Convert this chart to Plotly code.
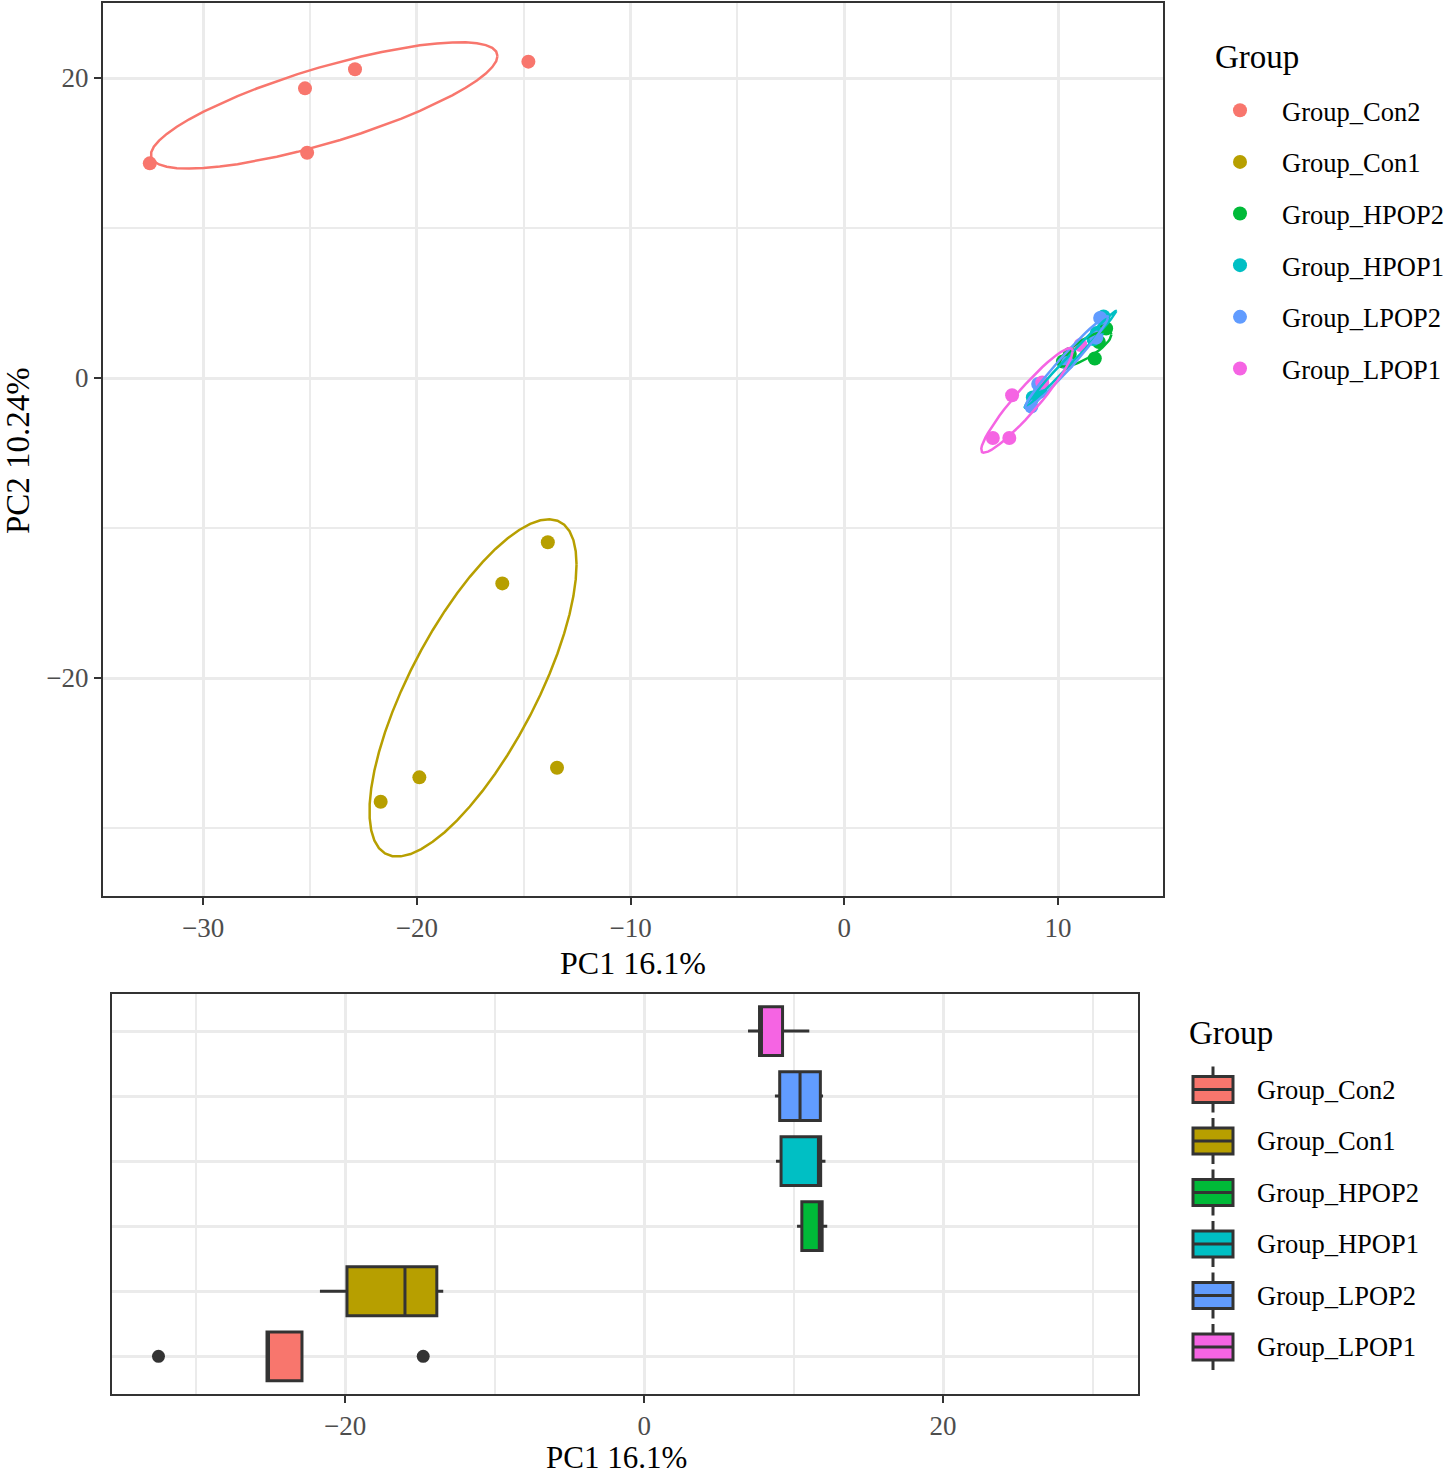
import numpy as np
import plotly.graph_objects as go

# ---- data: PCA scores ----
groups = ["Group_Con2", "Group_Con1", "Group_HPOP2", "Group_HPOP1", "Group_LPOP2", "Group_LPOP1"]
colors = ["#F8766D", "#B79F00", "#00BA38", "#00BFC4", "#619CFF", "#F564E3"]

con2_pc1 = [-32.49, -25.23, -22.89, -25.13, -14.78]
con2_pc2 = [14.31, 19.31, 20.58, 15.02, 21.09]
con1_pc1 = [-13.87, -16.00, -19.88, -21.69, -13.44]
con1_pc2 = [-10.95, -13.69, -26.62, -28.25, -25.98]
hpop2_pc1 = [10.23, 10.55, 11.72, 11.91, 12.25]
hpop2_pc2 = [1.1, 1.6, 1.3, 2.4, 3.3]
hpop1_pc1 = [8.82, 9.16, 11.66, 11.81, 12.13]
hpop1_pc2 = [-1.3, -0.9, 2.6, 3.0, 4.1]
lpop2_pc1 = [8.75, 9.07, 10.43, 11.79, 11.97]
lpop2_pc2 = [-1.9, -0.4, 1.0, 2.7, 4.0]
lpop1_pc1 = [6.95, 7.72, 7.85, 9.26, 11.05]
lpop1_pc2 = [-4.0, -4.0, -1.15, -0.3, 2.2]

pc1 = [con2_pc1, con1_pc1, hpop2_pc1, hpop1_pc1, lpop2_pc1, lpop1_pc1]
pc2 = [con2_pc2, con1_pc2, hpop2_pc2, hpop1_pc2, lpop2_pc2, lpop1_pc2]

W, H = 1450, 1476
FONT = "Liberation Serif"
ELLIPSE_LEVEL = 0.6


def cov_trob(pts, nu=5, maxit=25, tol=0.01):
    # robust t scatter, same iteration as MASS::cov.trob
    x = np.asarray(pts, float)
    n, p = x.shape
    wt = np.ones(n)
    loc = x.mean(axis=0)
    w = np.sqrt(wt)
    for _ in range(maxit):
        w0 = w
        X = x - loc
        _, d, vt = np.linalg.svd(np.sqrt(w / w.sum())[:, None] * X, full_matrices=False)
        wX = X @ vt.T @ np.diag(1 / d)
        Q = (wX ** 2).sum(axis=1)
        w = (wt * (nu + p)) / (nu + Q)
        loc = (w[:, None] * x).sum(axis=0) / w.sum()
        if np.all(np.abs(w - w0) < tol):
            break
    sX = np.sqrt(w)[:, None] * X
    return loc, sX.T @ sX / wt.sum()


def ellipse(xs, ys, level=ELLIPSE_LEVEL, segments=51):
    center, shape = cov_trob(np.column_stack([xs, ys]))
    dfd = len(xs) - 1
    qf = dfd / 2 * ((1 - level) ** (-2 / dfd) - 1)  # F(2, dfd) quantile
    radius = np.sqrt(2 * qf)
    ang = np.linspace(0, 2 * np.pi, segments + 1)
    circle = np.column_stack([np.cos(ang), np.sin(ang)])
    e = center + radius * (circle @ np.linalg.cholesky(shape).T)
    return e[:, 0], e[:, 1]


def px_x(px):
    return px / W


def px_y(py):
    return 1 - py / H


fig = go.Figure()

# top panel: points
for g, c, xs, ys in zip(groups, colors, pc1, pc2):
    fig.add_trace(go.Scatter(
        x=xs, y=ys, mode="markers", name=g,
        marker=dict(color=c, size=14),
        legendgroup="s" + g, xaxis="x", yaxis="y",
    ))

# top panel: ellipses
for g, c, xs, ys in zip(groups, colors, pc1, pc2):
    ex, ey = ellipse(xs, ys)
    fig.add_trace(go.Scatter(
        x=ex, y=ey, mode="lines", line=dict(color=c, width=2.5),
        showlegend=False, hoverinfo="skip", xaxis="x", yaxis="y",
    ))

# bottom panel: PC1 boxplots
for g, c, xs in zip(groups, colors, pc1):
    fig.add_trace(go.Box(
        x=xs, y=[g] * len(xs), orientation="h", name=g,
        boxpoints="outliers", quartilemethod="inclusive",
        fillcolor=c, line=dict(color="#333333", width=3),
        marker=dict(color="#333333", size=13),
        whiskerwidth=0, width=0.75, showlegend=False,
        xaxis="x2", yaxis="y2",
    ))

grid = "#EBEBEB"
axis_common = dict(
    showline=True, mirror=True, linecolor="#333333", linewidth=2,
    gridcolor=grid, gridwidth=2.5, zeroline=False,
    ticks="outside", ticklen=7, tickwidth=2, tickcolor="#333333",
    tickfont=dict(family=FONT, size=27, color="#4D4D4D"),
)
minor_common = dict(showgrid=True, gridcolor=grid, gridwidth=1.5, ticklen=0, tick0=0)

# hand-drawn legend for the boxplot panel (ggplot style box keys)
shapes = []
annotations = [
    dict(text="PC1 16.1%", x=px_x(633), y=px_y(963)),
    dict(text="PC2 10.24%", x=px_x(18), y=px_y(451), textangle=-90, font=dict(family=FONT, size=33, color="black")),
    dict(text="PC1 16.1%", x=px_x(616), y=px_y(1457), font=dict(family=FONT, size=31, color="black")),
    dict(text="Group", x=px_x(1213), y=px_y(57), xanchor="left", font=dict(family=FONT, size=33, color="black")),
    dict(text="Group", x=px_x(1187), y=px_y(1033), xanchor="left", font=dict(family=FONT, size=33, color="black")),
]
for i, (g, c) in enumerate(zip(groups, colors)):
    yc = 1089.5 + i * 51.5
    shapes.append(dict(type="line", xref="paper", yref="paper",
                       x0=px_x(1213), x1=px_x(1213), y0=px_y(yc - 23), y1=px_y(yc + 23),
                       line=dict(color="#333333", width=3)))
    shapes.append(dict(type="rect", xref="paper", yref="paper",
                       x0=px_x(1193), x1=px_x(1233), y0=px_y(yc - 13), y1=px_y(yc + 13),
                       fillcolor=c, line=dict(color="#333333", width=3)))
    shapes.append(dict(type="line", xref="paper", yref="paper",
                       x0=px_x(1193), x1=px_x(1233), y0=px_y(yc), y1=px_y(yc),
                       line=dict(color="#333333", width=3)))
    annotations.append(dict(text=g, x=px_x(1255), y=px_y(yc), xanchor="left",
                            font=dict(family=FONT, size=26.5, color="black")))

for a in annotations:
    a.update(xref="paper", yref="paper", showarrow=False)
    a.setdefault("xanchor", "center")
    a.setdefault("yanchor", "middle")
    a.setdefault("font", dict(family=FONT, size=32, color="black"))

fig.update_layout(
    width=W, height=H,
    margin=dict(l=0, r=0, t=0, b=0),
    plot_bgcolor="white", paper_bgcolor="white",
    font=dict(family=FONT, color="black"),
    xaxis=dict(
        domain=[px_x(103), px_x(1163)], range=[-34.68, 14.91],
        tick0=0, dtick=10, anchor="y",
        minor=dict(dtick=5, **minor_common), **axis_common,
    ),
    yaxis=dict(
        domain=[px_y(896), px_y(3)], range=[-34.53, 25.0],
        tick0=0, dtick=20, anchor="x",
        minor=dict(dtick=10, **minor_common), **axis_common,
    ),
    xaxis2=dict(
        domain=[px_x(112), px_x(1138)], range=[-35.6, 33.04],
        tick0=0, dtick=20, anchor="y2",
        minor=dict(dtick=10, **minor_common), **axis_common,
    ),
    yaxis2=dict(
        domain=[px_y(1394), px_y(994)], range=[-0.58, 5.57],
        type="category", categoryorder="array", categoryarray=groups,
        anchor="x2", showline=True, mirror=True, linecolor="#333333", linewidth=2,
        showgrid=True, gridcolor=grid, gridwidth=2.5, showticklabels=False, ticks="",
    ),
    legend=dict(
        x=px_x(1198), y=px_y(86.5), xanchor="left", yanchor="top",
        font=dict(family=FONT, size=26.5, color="black"),
        tracegroupgap=14.2, itemwidth=74, bgcolor="rgba(0,0,0,0)",
    ),
    shapes=shapes,
    annotations=annotations,
)

# drop the browser's default body margin so the figure sits at the page corner
fig.write_html("out.html", config=dict(displayModeBar=False),
               post_script="document.body.style.margin='0';")
